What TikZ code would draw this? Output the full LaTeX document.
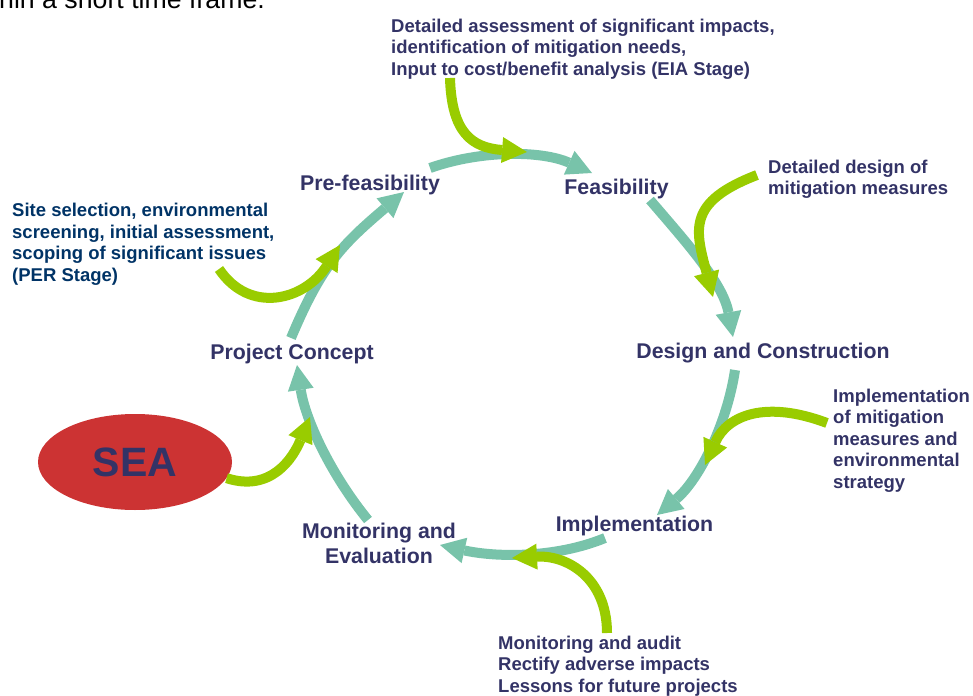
\documentclass[tikz,border=0pt]{standalone}
\usepackage{fontspec}
\setmainfont{Liberation Sans}
\usetikzlibrary{arrows.meta,shapes.geometric}
\definecolor{cyc}{HTML}{78C3AA}
\definecolor{lime}{HTML}{99CC00}
\definecolor{navy}{HTML}{333366}
\definecolor{dblue}{HTML}{003366}
\definecolor{seared}{HTML}{CC3333}
\begin{document}
\begin{tikzpicture}[x=1pt,y=-1pt,
  cycarrow/.style={draw=cyc, line width=10pt, -{Triangle[length=25pt,width=26pt,line width=0pt]}},
  limearrow/.style={draw=lime, line width=10pt, -{Triangle[length=25pt,width=26pt,line width=0pt]}},
  stage/.style={font=\fontsize{21.3}{25}\selectfont\bfseries, text=navy, inner sep=0pt},
  note/.style={font=\fontsize{18.5}{21.5}\selectfont\bfseries, text=navy, inner sep=0pt, align=left, anchor=north west},
]
\useasboundingbox (0,0) rectangle (973,695);

% texts
\node[font=\fontsize{26.7}{32}\selectfont, anchor=base west, inner sep=0pt] (frag) at (-1,8.5) {hin a short time frame.};
\node[stage, anchor=base] (pref) at (370,190.7) {Pre-feasibility};
\node[stage, anchor=base] (feas) at (616.5,194) {Feasibility};
\node[stage, anchor=base] (dc) at (763,358) {Design and Construction};
\node[stage, anchor=base] (impl) at (634.5,531.7) {Implementation};
\node[stage, anchor=north, align=center] (mon) at (379,523) {Monitoring and\\Evaluation};
\node[stage, anchor=base] (pc) at (292,359) {Project Concept};
\node[ellipse, fill=seared, minimum width=194pt, minimum height=96pt, inner sep=0pt,
      font=\fontsize{41}{41}\selectfont\bfseries, text=navy] (sea) at (135,462) {SEA};

\node[note] (eia) at (391,18.4) {Detailed assessment of significant impacts,\\identification of mitigation needs,\\Input to cost/benefit analysis (EIA Stage)};
\node[note, text=dblue] (per) at (12,203.3) {Site selection, environmental\\screening, initial assessment,\\scoping of significant issues\\(PER Stage)};
\node[note] (ddm) at (768,159.8) {Detailed design of\\mitigation measures};
\node[note] (imm) at (833,388.6) {Implementation\\of mitigation\\measures and\\environmental\\strategy};
\node[note] (mau) at (498,635.8) {Monitoring and audit\\Rectify adverse impacts\\Lessons for future projects};

% connector end points
\coordinate (t1s) at (291,338);   \coordinate (t1e) at (404,192);
\coordinate (t2s) at (430,168);   \coordinate (t2e) at (592,173);
\coordinate (t3s) at (650,200);   \coordinate (t3e) at (733,337);
\coordinate (t4s) at (735,370);   \coordinate (t4e) at (657,515);
\coordinate (t5s) at (605,538);   \coordinate (t5e) at (440,545);
\coordinate (t6s) at (368,520);   \coordinate (t6e) at (297,365);

\coordinate (g1s) at (450,78);    \coordinate (g1e) at (527,152);
\coordinate (g2s) at (757,175);   \coordinate (g2e) at (713,297);
\coordinate (g3s) at (827,423);   \coordinate (g3e) at (705,465);
\coordinate (g4s) at (607,633);   \coordinate (g4e) at (512,558);
\coordinate (g5e) at (310,417);
\coordinate (g6s) at (219,269);   \coordinate (g6e) at (340,245);

% cycle arcs
\draw[cycarrow] (t1s) .. controls (322,264) and (343,244) .. (t1e);
\draw[cycarrow] (t2s) .. controls (481.7,149.8) and (542,150.5) .. (t2e);
\draw[cycarrow] (t3s) .. controls (686,242) and (723,283) .. (t3e);
\draw[cycarrow] (t4s) .. controls (727,424) and (699,480) .. (t4e);
\draw[cycarrow] (t5s) .. controls (554,559) and (494,557) .. (t5e);
\draw[cycarrow] (t6s) .. controls (332,476) and (305.5,421) .. (t6e);

% input arrows
\draw[limearrow] (g1s) .. controls (451.6,133) and (472,147.6) .. (g1e);
\draw[limearrow] (g2s) .. controls (687,202) and (695,229) .. (g2e);
\draw[limearrow] (g3s) .. controls (766,400) and (727.5,415) .. (g3e);
\draw[limearrow] (g4s) .. controls (607,578) and (567,555) .. (g4e);
\draw[limearrow] (sea.-10) .. controls (270.75,492.5) and (292.9,458.4) .. (g5e);
\draw[limearrow] (g6s) .. controls (250,315) and (305,300) .. (g6e);
\end{tikzpicture}
\end{document}
